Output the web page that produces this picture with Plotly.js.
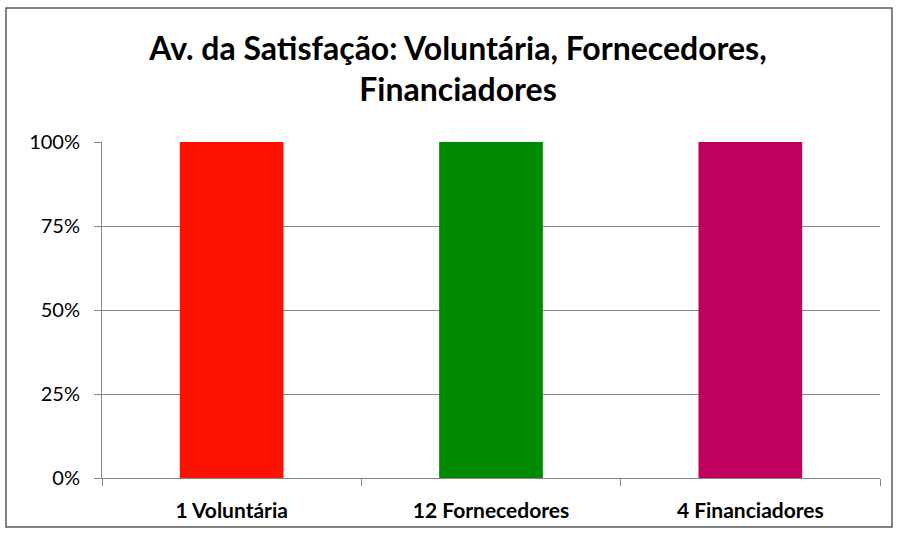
<!DOCTYPE html>
<html>
<head>
<meta charset="utf-8">
<script src="https://cdn.plot.ly/plotly-3.0.1.min.js"></script>
<style>
html,body{margin:0;padding:0;background:#fff;}
#chart{width:898px;height:533px;}
</style>
</head>
<body>
<div id="chart"></div>
<script>
const categories = ["1 Voluntária", "12 Fornecedores", "4 Financiadores"];
const values = [1, 1, 1];
const barColors = ["#ff1100", "#008a00", "#c0005f"];
const yTickVals = [0, 0.25, 0.5, 0.75, 1];
const yTickText = ["0%", "25%", "50%", "75%", "100%"];
const titleText = "Av. da Satisfação: Voluntária, Fornecedores,<br>Financiadores";

const ml = 102, mr = 18, mt = 142, mb = 55, W = 898, H = 533;
const pw = W - ml - mr, ph = H - mt - mb;
function px(x){ return (x - ml) / pw; }
function py(y){ return (H - mb - y) / ph; }

const trace = {
  type: "bar",
  x: categories,
  y: values,
  marker: {color: barColors, line: {width: 0}},
  hoverinfo: "none"
};

const layout = {
  width: W, height: H,
  margin: {l: ml, r: mr, t: mt, b: mb, pad: 0},
  paper_bgcolor: "#ffffff",
  plot_bgcolor: "#ffffff",
  showlegend: false,
  bargap: 0.6,
  title: {
    text: titleText,
    font: {family: "Lato, 'Open Sans', sans-serif", size: 32, color: "#000", weight: "bold"},
    x: 0.51, xref: "container", xanchor: "center",
    y: 0.888, yref: "container", yanchor: "top"
  },
  xaxis: {
    type: "category",
    showgrid: false,
    showline: true, linecolor: "#868686", linewidth: 1,
    ticks: "outside", tickson: "boundaries", ticklen: 7, tickcolor: "#868686",
    ticklabelstandoff: 14,
    tickfont: {family: "Lato, 'Open Sans', sans-serif", size: 21, color: "#000", weight: "bold"},
    fixedrange: true
  },
  yaxis: {
    range: [0, 1],
    tickvals: yTickVals, ticktext: yTickText,
    showgrid: true, gridcolor: "#868686", gridwidth: 1,
    showline: true, linecolor: "#868686", linewidth: 1,
    ticks: "outside", ticklen: 7, tickcolor: "#868686",
    ticklabelstandoff: 10,
    tickfont: {family: "Lato, 'Open Sans', sans-serif", size: 20, color: "#000"},
    zeroline: false,
    fixedrange: true
  },
  shapes: [{
    type: "rect", xref: "paper", yref: "paper",
    x0: px(6), x1: px(892), y0: py(527), y1: py(8),
    line: {color: "#5a5a5a", width: 1.5}, fillcolor: "rgba(0,0,0,0)", layer: "below"
  }]
};

Plotly.newPlot("chart", [trace], layout, {displayModeBar: false, staticPlot: true});
</script>
</body>
</html>
